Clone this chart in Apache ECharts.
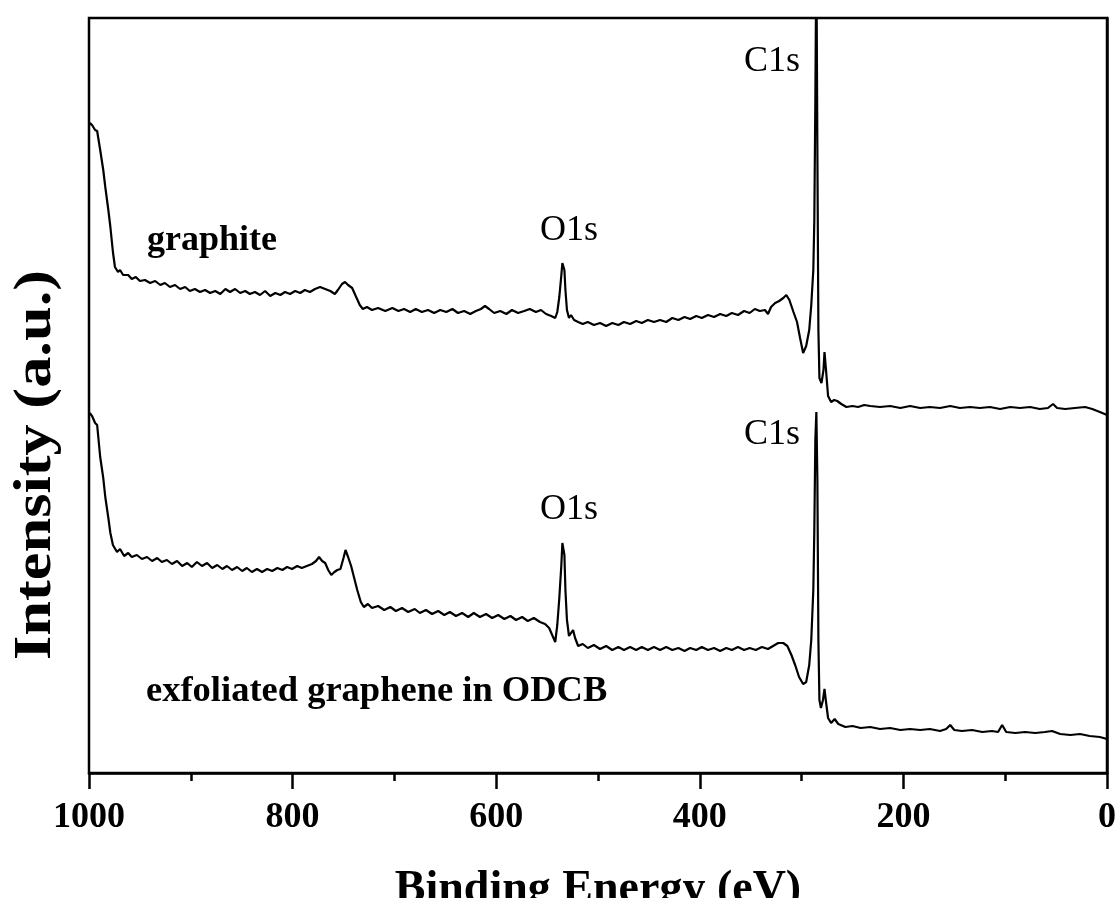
<!DOCTYPE html>
<html>
<head>
<meta charset="utf-8">
<script src="https://cdn.jsdelivr.net/npm/echarts@6/dist/echarts.min.js"></script>
<style>html,body{margin:0;padding:0;background:#fff}#c{width:1119px;height:898px}</style>
</head>
<body>
<div id="c"></div>
<script>
// Binding energy (eV) and intensity (a.u.)
const graphiteE = [1000,999,997,994,992,989,986,984,981,979,976.5,974.5,971.5,969.5,966.5,961.5,958,954,950,945,940,935,930,925.5,920.5,915.5,910.5,905.5,901,896,891,886,881,876,871,866,861.5,856.5,851.5,846.5,842,837,832,827,822,817,812,807.5,802.5,797.5,792.5,788,783,778,773,768,763,758.5,755.5,751.5,748.5,745.5,741.5,738,734,731,727,722,716,709,702,696,690.5,684.5,679,673,667,661,655,649,643,637.5,631.5,625.5,620,615,611,607,602,596,590,584.5,578.5,572.5,567,561,556,551,546,542,540,538,536,535,533,532,530.5,528.5,526.5,523.5,519.5,515,510,504,498,492,486,480,474.5,468.5,462.5,457,451,445,439,433,427,421,415,409.5,403.5,398,392,386,380,374,368.5,362.5,356.5,351,346,341,336,333,330,326,322,318,315,312,308,304.5,301.5,298.5,295.5,292.5,290.5,288.5,287.5,286.5,285.5,284.5,283.5,282.5,280.5,278.5,277.5,276,274,271,268,265,261,256,250,244.5,238.5,232.5,223,213,203,193.5,183.5,174,164,154,144.5,134.5,125,115,105,95,85.5,75.5,66,58,53,49,41,31.5,21.5,14.5,7,0];
const graphiteI = [647,650,648,643,642,623,603,586,563,546,521,506,501,503,498,498,494,496,492,493,490,492,488,490,486,488,484,486,482,484,481,483,480,482,479,484,481,484,480,482,479,481,478,482,477,480,478,481,479,482,480,483,481,484,486,484,482,479,483,489,491,488,485,477,468,464,466,463,465,462,465,462,464,461,464,461,463,460,463,461,464,460,462,459,462,464,467,464,460,462,459,463,460,462,464,461,463,459,457,455,461,476,498,510,503,483,463,455,458,453,451,449,451,448,450,447,450,448,451,449,452,450,453,451,453,451,455,453,456,454,457,455,458,456,459,457,460,458,462,460,464,462,463,459,466,470,472,475,478,473,461,451,435,420,427,443,468,503,553,673,823,623,443,395,390,403,421,403,377,371,373,372,369,366,367,366,368,367,366,367,365,367,365,366,365,367,365,366,365,366,364,366,365,366,364,365,369,365,364,365,366,364,361,358];

const grapheneE = [1000,999,997,994,992,989,986,984,981,979,976.5,972.5,969.5,965.5,961.5,958,953,948,943,938,933,928.5,923.5,918.5,913.5,908.5,903.5,899,894,889,884,879,874,869,864.5,859.5,854.5,849.5,845,840,835,830,825,820,815,810,805.5,800.5,795.5,791,786,781,777,774,771,768,765,762,759,756,753,750,748,745.5,742.5,739.5,736.5,733,730,726,722,716,710,704,698.5,692.5,686.5,680,675,669,663,657,651,645.5,639.5,633.5,627.5,622,616,610,604,598,592,586,580.5,574.5,569,563,557,552,548,545,542,540,538,536,535,533,532,530.5,528.5,526.5,524.5,522.5,519.5,515,510,504,498,492,486,480,474.5,468.5,462.5,457,451,445,439,433,427,421,415,409.5,403.5,398,392,386,380,374,368.5,362.5,356.5,351,345,339,333,328,323,318,314,310,306,302.5,298.5,295.5,292.5,290.5,288.5,287.5,286.5,285.5,284.5,283.5,282.5,281,279,277.5,276,274,271,267.5,264,257,250,242,232.5,223,213,203,193.5,183.5,174,164,158,154,150,142.5,132.5,122.5,113,107,103,99,90,80.5,70.5,61,54,46,36,26.5,17,7,0];
const grapheneI = [357,360,357,350,348,316,295,276,255,240,228,221,224,217,220,216,218,214,216,212,215,211,213,209,212,207,210,206,211,207,210,205,208,204,207,203,206,202,205,201,204,201,204,202,205,203,206,204,207,205,207,209,212,216,212,210,203,198,201,203,204,215,223,216,207,195,183,171,166,169,165,167,163,166,162,165,161,164,160,163,159,162,158,161,157,160,156,160,156,159,155,158,154,157,153,156,152,155,151,149,145,138,131,148,175,208,230,218,183,153,137,140,143,135,127,129,125,128,124,127,123,126,123,126,123,126,123,126,123,126,123,125,122,125,123,126,123,125,122,125,123,126,123,125,123,126,124,127,130,130,127,118,107,96,89,91,108,133,183,243,333,361,293,133,73,65,73,84,71,55,50,54,49,46,47,45,46,44,45,43,44,43,44,42,44,48,43,42,43,41,42,41,48,41,40,41,40,41,42,39,38,39,37,36,34];

const xTicks = {min: 0, max: 1000, interval: 200};
const yRange = {min: 0, max: 755};
const labels = {graphite: 'graphite', graphene: 'exfoliated graphene in ODCB', c1s: 'C1s', o1s: 'O1s'};
const axisNames = {x: 'Binding Energy (eV)', y: 'Intensity (a.u.)'};

const zip = (a, b) => a.map((v, i) => [v, b[i]]);
const serif = '"Liberation Serif", "Times New Roman", serif';

const chart = echarts.init(document.getElementById('c'), null, {renderer: 'canvas'});
chart.setOption({
  animation: false,
  backgroundColor: '#fff',
  grid: {left: 89, right: 12, top: 18, bottom: 125, containLabel: false, outerBoundsMode: 'none',
         show: true, borderColor: '#000', borderWidth: 2.5, backgroundColor: 'transparent'},
  xAxis: {
    type: 'value', inverse: true, min: xTicks.min, max: xTicks.max, interval: xTicks.interval,
    name: axisNames.x, nameLocation: 'middle', nameGap: 94,
    nameTextStyle: {fontFamily: serif, fontWeight: 'bold', fontSize: 46, color: '#000'},
    axisLine: {show: true, lineStyle: {color: '#000', width: 2.5}},
    axisTick: {show: true, inside: false, length: 16, lineStyle: {color: '#000', width: 2.5}},
    minorTick: {show: true, splitNumber: 2, length: 8, lineStyle: {color: '#000', width: 2.5}},
    axisLabel: {margin: 27, fontFamily: serif, fontWeight: 'bold', fontSize: 36, color: '#000',
                showMinLabel: true, showMaxLabel: true, formatter: v => String(v)},
    splitLine: {show: false}
  },
  yAxis: {
    type: 'value', min: yRange.min, max: yRange.max,
    axisLine: {show: true, lineStyle: {color: '#000', width: 2.5}},
    axisTick: {show: false}, axisLabel: {show: false}, splitLine: {show: false}
  },
  series: [
    {type: 'line', data: zip(graphiteE, graphiteI), showSymbol: false, clip: true, lineStyle: {color: '#000', width: 2.2}},
    {type: 'line', data: zip(grapheneE, grapheneI), showSymbol: false, clip: true, lineStyle: {color: '#000', width: 2.2}}
  ],
  graphic: [
    {type: 'text', x: 37, y: 465, rotation: Math.PI / 2, scaleX: 1.2, scaleY: 1,
     style: {text: axisNames.y, font: 'bold 52px ' + serif, fill: '#000', align: 'center', verticalAlign: 'middle'}},
    {type: 'text', left: 147, top: 223, style: {text: labels.graphite, font: 'bold 36px ' + serif, fill: '#000'}},
    {type: 'text', left: 146, top: 673, style: {text: labels.graphene, font: 'bold 36.5px ' + serif, fill: '#000'}},
    {type: 'text', right: 1119 - 800, top: 44, style: {text: labels.c1s, font: '36px ' + serif, fill: '#000'}},
    {type: 'text', right: 1119 - 800, top: 417, style: {text: labels.c1s, font: '36px ' + serif, fill: '#000'}},
    {type: 'text', left: 540, top: 213, style: {text: labels.o1s, font: '36px ' + serif, fill: '#000'}},
    {type: 'text', left: 540, top: 492, style: {text: labels.o1s, font: '36px ' + serif, fill: '#000'}}
  ]
});
</script>
</body>
</html>
